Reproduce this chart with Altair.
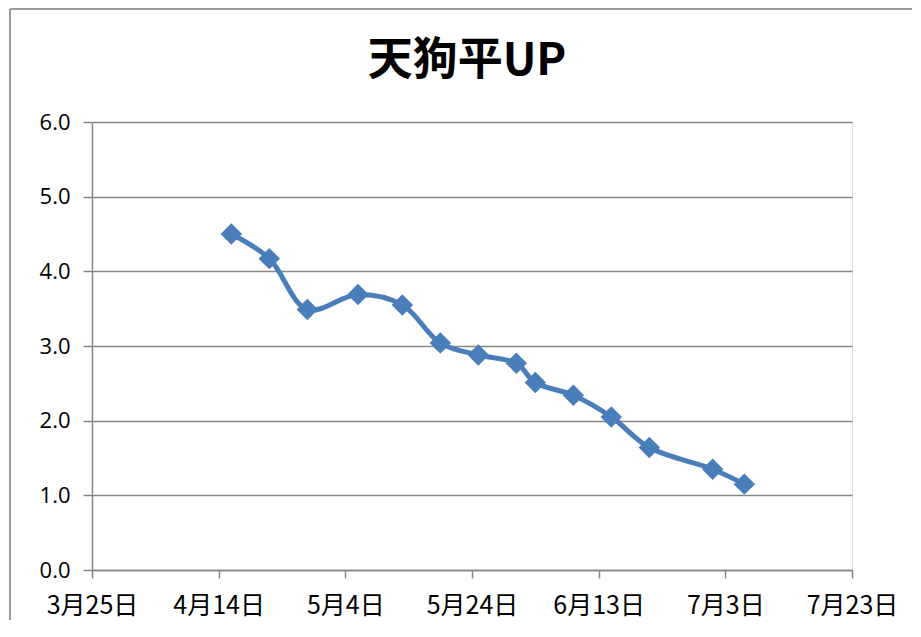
import altair as alt
import pandas as pd

dates = ["2013-04-16", "2013-04-22", "2013-04-28", "2013-05-06", "2013-05-13",
         "2013-05-19", "2013-05-25", "2013-05-31", "2013-06-03", "2013-06-09",
         "2013-06-15", "2013-06-21", "2013-07-01", "2013-07-06"]
values = [4.50, 4.17, 3.49, 3.69, 3.55, 3.04, 2.88, 2.77, 2.51, 2.34, 2.05, 1.64, 1.35, 1.15]
tick_dates = ["2013-03-25", "2013-04-14", "2013-05-04", "2013-05-24", "2013-06-13",
              "2013-07-03", "2013-07-23"]
title_text = "天狗平UP"

df = pd.DataFrame({"date": dates, "value": values})

def dt(s):
    y, m, d = (int(p) for p in s.split("-"))
    return alt.DateTime(year=y, month=m, date=d, utc=True)

tick_vals = [dt(s) for s in tick_dates]

GRAY = "#868686"
BLUE = "#4A7EBB"

x_enc = alt.X(
    "date:T",
    scale=alt.Scale(type="utc", domain=[tick_vals[0], tick_vals[-1]]),
    axis=alt.Axis(
        values=tick_vals,
        labelExpr="utcFormat(datum.value, '%-m月%-d日')",
        title=None, grid=False, domainColor=GRAY, domainWidth=1.5,
        tickColor=GRAY, tickWidth=1.5, tickSize=8, labelPadding=15,
        labelFont="Noto Sans CJK JP", labelFontSize=25, labelColor="#000000",
        labelFlush=False, labelOverlap=False,
    ),
)
y_enc = alt.Y(
    "value:Q",
    scale=alt.Scale(domain=[0, 6]),
    axis=alt.Axis(
        values=[0, 1, 2, 3, 4, 5, 6], format=".1f", title=None,
        grid=True, gridColor=GRAY, gridWidth=1.5,
        domainColor=GRAY, domainWidth=1.5, tickColor=GRAY, tickWidth=1.5,
        tickSize=9, labelPadding=13, labelFont="Open Sans", labelFontSize=22,
        labelColor="#000000",
    ),
)

line = alt.Chart(df).mark_line(
    color=BLUE, strokeWidth=5, interpolate="catmull-rom"
).encode(x=x_enc, y=y_enc)

pts = alt.Chart(df).mark_point(
    shape="diamond", filled=True, size=460, color=BLUE, opacity=1
).encode(x="date:T", y="value:Q")

border_top = alt.Chart(df).mark_rule(color="#999999", strokeWidth=2).encode(
    x=alt.value(-82), x2=alt.value(900), y=alt.value(-113)
)
border_left = alt.Chart(df).mark_rule(color="#999999", strokeWidth=2).encode(
    x=alt.value(-82), y=alt.value(-113), y2=alt.value(600)
)

title = alt.Chart(pd.DataFrame({"t": [title_text]})).mark_text(
    font="Noto Sans CJK JP", fontSize=45, fontWeight="bold", color="#000000",
    align="center", baseline="middle",
).encode(x=alt.value(375), y=alt.value(-61), text="t:N")

chart = alt.layer(border_top, border_left, title, line, pts).properties(
    width=760, height=448,
    autosize=alt.AutoSizeParams(type="none"),
    padding={"left": 84, "top": 114, "right": 60, "bottom": 50},
).configure_view(stroke=None).configure(background="white")

chart.save("out.html", embed_options={"renderer": "svg", "actions": False})
